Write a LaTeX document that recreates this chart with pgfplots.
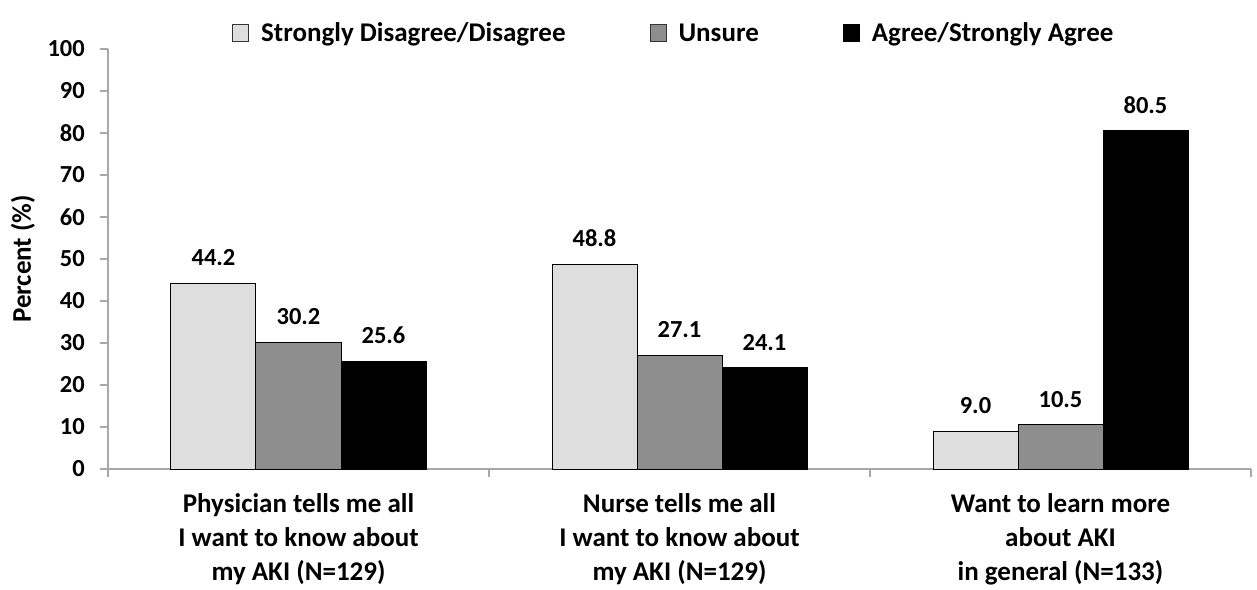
\documentclass[border=0pt]{standalone}
\usepackage{fontspec}
\setmainfont{Carlito}
\usepackage{pgfplots}
\pgfplotsset{compat=1.18}

\definecolor{lightbar}{HTML}{DEDEDE}
\definecolor{midbar}{HTML}{8E8E8E}
\definecolor{axisgray}{HTML}{A8A8A8}

\newcommand\catfont{\fontsize{27}{34}\selectfont\bfseries}
\newcommand\tickfont{\fontsize{24.5}{28}\selectfont\bfseries}
\newcommand\valfont{\fontsize{24.5}{28}\selectfont\bfseries}

\begin{document}
\begin{tikzpicture}
\begin{axis}[
  at={(0,0)}, anchor=south west,
  scale only axis, width=1143pt, height=420pt,
  xmin=-0.5, xmax=2.5, ymin=0, ymax=100,
  ybar=0pt, bar width=85pt,
  axis x line*=bottom, axis y line*=left,
  axis line style={-, draw=axisgray, line width=1.2pt},
  tick align=outside,
  tick style={draw=axisgray, line width=1.2pt},
  major tick length=8pt, minor tick length=8pt,
  ytick={0,10,...,100},
  yticklabel style={font=\tickfont, inner sep=0pt, xshift=-15pt},
  /pgf/number format/assume math mode=true,
  xtick={0,1,2},
  minor xtick={-0.5,0.5,1.5,2.5},
  major x tick style={draw=none},
  xticklabels={{Physician tells me all\\I want to know about\\my AKI (N=129)},
               {Nurse tells me all\\I want to know about\\my AKI (N=129)},
               {Want to learn more\\about AKI\\in general (N=133)}},
  xticklabel style={font=\catfont, align=center, anchor=north, inner sep=0pt, yshift=-16pt},
  ylabel={Percent (\%)},
  every axis y label/.style={at={(axis description cs:-0.0744,0.5)}, rotate=90, anchor=center, font=\catfont},
  nodes near coords={\pgfmathprintnumber[fixed, fixed zerofill, precision=1, assume math mode=true]{\pgfplotspointmeta}},
  nodes near coords style={font=\valfont, inner sep=0pt, anchor=south, yshift=17pt, text=black},
  legend columns=3,
  legend cell align=left,
  legend style={at={(axis description cs:0.1085,1.036)}, anchor=west, draw=none, fill=none,
    inner sep=0pt, font=\catfont, nodes={inner sep=0pt, text height=0.72em, text depth=0.22em},
    /tikz/every odd column/.append style={column sep=12pt},
    /tikz/every even column/.append style={column sep=84pt}},
]
\addplot[fill=lightbar, draw=black, line width=1pt,
  legend image code/.code={\draw[fill=lightbar, draw=black!80, line width=1pt] (0pt,-2.5pt) rectangle (16pt,14.5pt);}]
  coordinates {(0,44.2) (1,48.8) (2,9.0)};
\addplot[fill=midbar, draw=black, line width=1pt,
  legend image code/.code={\draw[fill=midbar, draw=black!80, line width=1pt] (0pt,-2.5pt) rectangle (16pt,14.5pt);}]
  coordinates {(0,30.2) (1,27.1) (2,10.5)};
\addplot[fill=black, draw=black, line width=1pt,
  legend image code/.code={\draw[fill=black, draw=black, line width=1pt] (0pt,-2.5pt) rectangle (16pt,14.5pt);}]
  coordinates {(0,25.6) (1,24.1) (2,80.5)};
\legend{Strongly Disagree/Disagree, Unsure, Agree/Strongly Agree}
\end{axis}
\pgfresetboundingbox
\useasboundingbox (-108pt,-120pt) rectangle (1149pt,469pt);
\end{tikzpicture}
\end{document}
